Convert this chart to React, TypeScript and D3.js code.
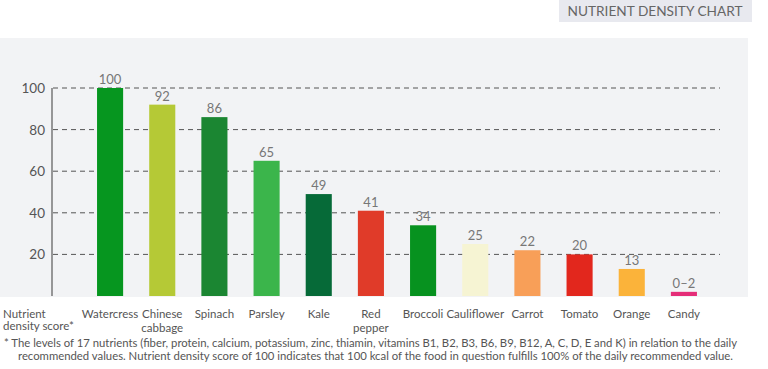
import React from "react";
import * as d3 from "d3";

const categories = [
  ["Watercress"],
  ["Chinese", "cabbage"],
  ["Spinach"],
  ["Parsley"],
  ["Kale"],
  ["Red", "pepper"],
  ["Broccoli"],
  ["Cauliflower"],
  ["Carrot"],
  ["Tomato"],
  ["Orange"],
  ["Candy"],
];
const values = [100, 92, 86, 65, 49, 41, 34, 25, 22, 20, 13, 2];
const valueLabels = ["100", "92", "86", "65", "49", "41", "34", "25", "22", "20", "13", "0–2"];
const colors = [
  "#06961f", "#b5c936", "#1b8632", "#3bb54b", "#066a38", "#e03b29",
  "#07921f", "#f6f4d3", "#f89f58", "#e2271d", "#fbb33a", "#e52d78",
];
const yTicks = [20, 40, 60, 80, 100];
const title = "NUTRIENT DENSITY CHART";
const yAxisLabel = ["Nutrient", "density score*"];
const footnote = [
  "* The levels of 17 nutrients (fiber, protein, calcium, potassium, zinc, thiamin, vitamins B1, B2, B3, B6, B9, B12, A, C, D, E and K) in relation to the daily",
  "recommended values. Nutrient density score of 100 indicates that 100 kcal of the food in question fulfills 100% of the daily recommended value.",
];

const W = 768;
const H = 369;
const FONT = "Lato, 'Open Sans', sans-serif";

export default function App() {
  const x = d3
    .scaleBand<number>()
    .domain(d3.range(categories.length))
    .range([84, 710])
    .paddingInner(0.5)
    .paddingOuter(0.25);
  const y = d3.scaleLinear().domain([0, 100]).range([296, 88]);
  const bw = x.bandwidth();

  return (
    <svg
      width={W}
      height={H}
      style={{ position: "fixed", left: 0, top: 0, background: "#fff" }}
      fontFamily={FONT}
    >
      {/* title box */}
      <rect x={559} y={0} width={193} height={22} fill="#e8e9ef" />
      <text x={655} y={16} textAnchor="middle" fontSize={13.5} fill="#666" textLength={175} lengthAdjust="spacingAndGlyphs">
        {title}
      </text>
      {/* panel */}
      <rect x={0} y={38} width={748} height={259} fill="#f2f3f5" />
      {/* grid */}
      {yTicks.map((t) => (
        <line
          key={t}
          x1={53}
          x2={720}
          y1={y(t)}
          y2={y(t)}
          stroke="#555"
          strokeWidth={1}
          strokeDasharray="5,4"
        />
      ))}
      {/* y axis */}
      <line x1={52} x2={52} y1={y(100)} y2={y(0)} stroke="#777" strokeWidth={1.5} />
      {yTicks.map((t) => (
        <text key={t} x={45} y={y(t) + 5} textAnchor="end" fontSize={13.5} fill="#555">
          {t}
        </text>
      ))}
      {/* bars */}
      {values.map((v, i) => (
        <rect
          key={i}
          x={x(i)}
          y={y(v)}
          width={bw}
          height={y(0) - y(v)}
          fill={colors[i]}
        />
      ))}
      {values.map((v, i) => (
        <text
          key={i}
          x={(x(i) as number) + bw / 2}
          y={y(v) - 4}
          textAnchor="middle"
          fontSize={13}
          fill="#777"
        >
          {valueLabels[i]}
        </text>
      ))}
      {/* category labels */}
      {categories.map((lines, i) => (
        <text
          key={i}
          x={(x(i) as number) + bw / 2}
          y={318}
          textAnchor="middle"
          fontSize={11.5}
          fill="#555"
        >
          {lines.map((l, j) => (
            <tspan key={j} x={(x(i) as number) + bw / 2} dy={j === 0 ? 0 : 13.5}>
              {l}
            </tspan>
          ))}
        </text>
      ))}
      <text x={3} y={318} fontSize={11.5} fill="#555">
        {yAxisLabel.map((l, j) => (
          <tspan key={j} x={3} dy={j === 0 ? 0 : 11.5}>
            {l}
          </tspan>
        ))}
      </text>
      {/* footnote */}
      <text x={4} y={347} fontSize={11} fill="#555" textLength={733} lengthAdjust="spacingAndGlyphs">
        {footnote[0]}
      </text>
      <text x={18} y={360} fontSize={11} fill="#555" textLength={715} lengthAdjust="spacingAndGlyphs">
        {footnote[1]}
      </text>
    </svg>
  );
}
